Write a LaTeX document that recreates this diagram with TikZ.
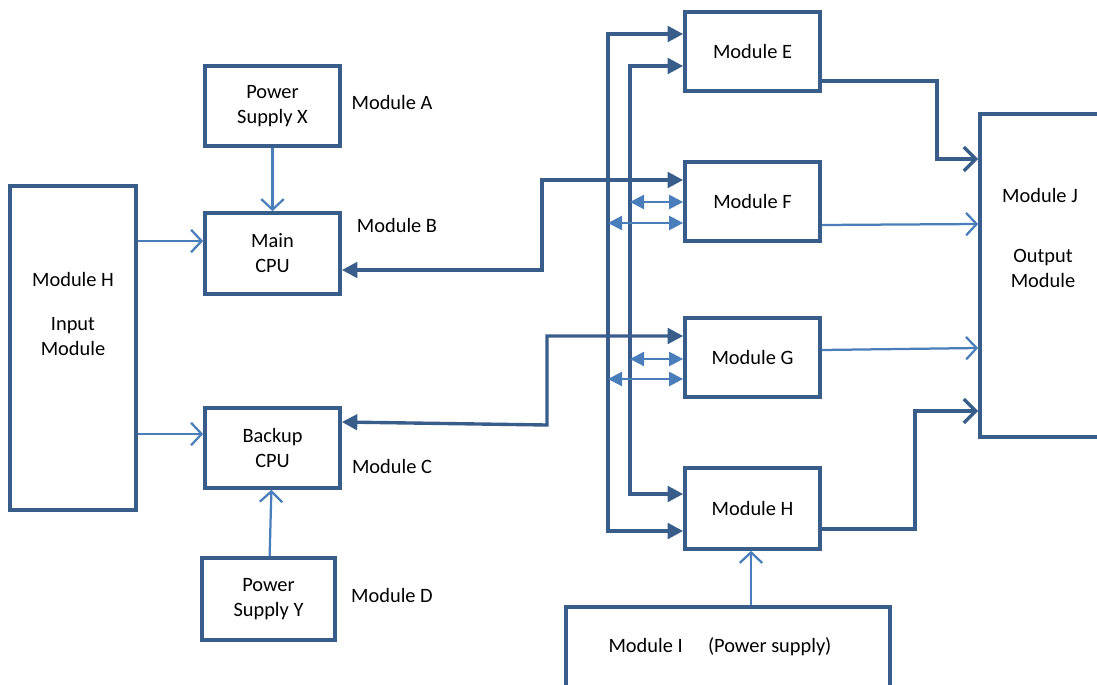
\documentclass[tikz,border=0pt]{standalone}
\usepackage{fontspec}
\setmainfont{Carlito}
\usetikzlibrary{arrows.meta, positioning, calc}
\definecolor{boxBlue}{RGB}{56, 93, 138}
\definecolor{linkBlue}{RGB}{74, 126, 187}
\tikzset{
    % Block Style
    block/.style={
        rectangle,
        draw=boxBlue,
        line width=2.6pt,
        minimum width=3.375cm,
        minimum height=2cm,
        align=center,
        inner sep=0pt
    },
    % Label & Text Styles
    tag/.style={font=\fontsize{14.5}{17.8}\selectfont, align=center, inner sep=0pt},
    % Arrow Styles
    feed/.style={-{Straight Barb[length=7.5pt, width=16pt, line width=1.6pt]}, line width=1.6pt, draw=linkBlue},
    link/.style={{Triangle[length=11pt, width=11pt]}-{Triangle[length=11pt, width=11pt]}, line width=2.4pt, draw=boxBlue},
    tap/.style={{Triangle[length=10pt, width=10pt]}-{Triangle[length=10pt, width=10pt]}, line width=1.6pt, draw=linkBlue},
    sink/.style={-{Straight Barb[length=8.5pt, width=17pt, line width=2.4pt]}, line width=2.4pt, draw=boxBlue}
}

\begin{document}
\begin{tikzpicture}[x=0.025cm, y=-0.025cm, font=\fontsize{14.5}{17.8}\selectfont]

    \clip (0,0) rectangle (1097,684);

    % --- LEFT SIDE (Input, CPUs, Supplies) ---
    \node (inMod) [block, minimum width=3.15cm, minimum height=8.1cm] at (73,348) {};
    \node (inTxt) [tag] at (73,314) {Module H\\[14pt]Input\\Module};

    \node (psX) [block] at (272.5,106) {Power\\Supply X};
    \node (mainCPU) [block, minimum height=2.025cm] at (272.5,253.5) {Main\\CPU};
    \node (backupCPU) [block] at (272.5,448) {Backup\\CPU};
    \node (psY) [block, minimum width=3.325cm, minimum height=2.05cm] at (268.5,599) {Power\\Supply Y};

    \node (tagA) [tag] at (392,102) {Module A};
    \node (tagB) [tag] at (397,225) {Module B};
    \node (tagC) [tag] at (392,466) {Module C};
    \node (tagD) [tag] at (392,595) {Module D};

    % --- RIGHT SIDE (Modules E to J) ---
    \node (modE) [block, minimum height=1.975cm] at (752.5,51.5) {Module E};
    \node (modF) [block, minimum height=1.975cm] at (752.5,201.5) {Module F};
    \node (modG) [block, minimum height=1.975cm] at (752.5,357.5) {Module G};
    \node (modH) [block, minimum height=2.025cm] at (752.5,508.5) {Module H};

    \node (modJ) [block, minimum width=6.5cm, minimum height=8.075cm] at (1110,275.5) {};
    \node (tagJ) [tag] at (1040,195) {Module J};
    \node (outTxt) [tag] at (1043,268) {Output\\Module};

    \node (modI) [block, minimum width=8.1cm, minimum height=3.5cm] at (728,677) {};
    \node (supTxt) [tag] at (720,647) {Module I\hspace{18pt}(Power supply)};

    % --- Feeds into the CPUs ---
    \draw [feed] (psX) -- (mainCPU);
    \draw [feed] (psY) -- (backupCPU);
    \draw [feed] (inMod.east |- 0,241) -- (mainCPU.west |- 0,241);
    \draw [feed] (inMod.east |- 0,434) -- (backupCPU.west |- 0,434);

    % --- CPU links ---
    \draw [link] (mainCPU.east |- 0,270) -- (542,270) -- (542,180) -- (modF.west |- 0,180);
    \draw [link] (backupCPU.east |- 0,422) -- (547,425) -- (547,336) -- (modG.west |- 0,336);

    % --- Bus lines ---
    \draw [link] (modH.west |- 0,531) -- (608,531) -- (608,34) -- (modE.west |- 0,34);
    \draw [link] (modH.west |- 0,494) -- (630,494) -- (630,66) -- (modE.west |- 0,66);

    % --- Bus taps ---
    \coordinate (tapF1) at (630,202);
    \coordinate (tapF2) at (608,223);
    \coordinate (tapG1) at (630,359);
    \coordinate (tapG2) at (608,379);
    \draw [tap] (tapF1) -- (modF.west |- tapF1);
    \draw [tap] (tapF2) -- (modF.west |- tapF2);
    \draw [tap] (tapG1) -- (modG.west |- tapG1);
    \draw [tap] (tapG2) -- (modG.west |- tapG2);

    % --- Outputs into Module J ---
    \draw [sink] (modE.east |- 0,81) -- (937,81) -- (937,159) -- (modJ.west |- 0,159);
    \draw [feed] (modF.east |- 0,225) -- (modJ.west |- 0,224);
    \draw [feed] (modG.east |- 0,350) -- (modJ.west |- 0,348);
    \draw [sink] (modH.east |- 0,529) -- (915,529) -- (915,411) -- (modJ.west |- 0,411);

    % --- Supply into Module H ---
    \draw [feed] (modI.north -| 751,0) -- (modH.south -| 751,0);

\end{tikzpicture}
\end{document}
